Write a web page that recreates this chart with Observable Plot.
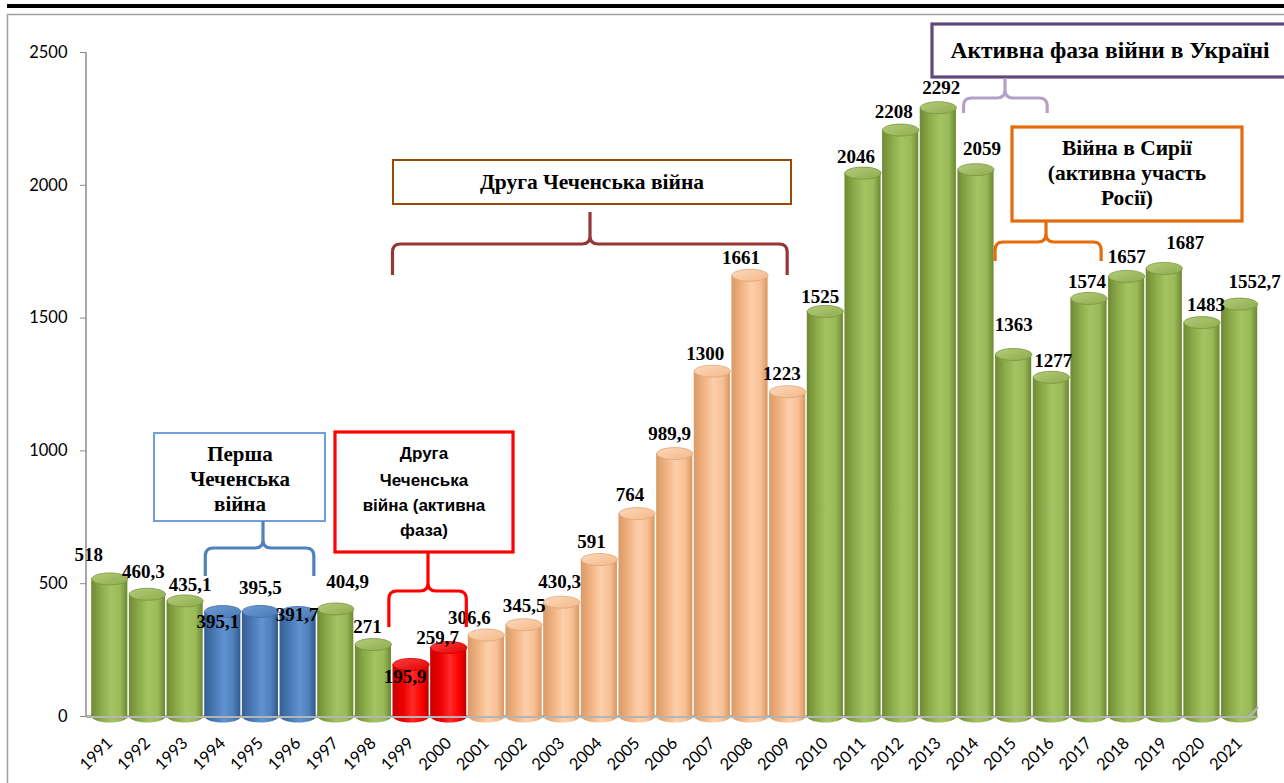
<!DOCTYPE html>
<html><head><meta charset="utf-8">
<script src="https://cdn.jsdelivr.net/npm/d3@7"></script>
<script src="https://cdn.jsdelivr.net/npm/@observablehq/plot@0.6"></script>
<style>
body{margin:0;background:#fff;}
#chart{position:relative;width:1284px;height:783px;overflow:hidden;}
.serif text, text.serif{font-family:"Liberation Serif","Times New Roman",Tinos,"DejaVu Serif",serif !important;}
text.sans{font-family:"Liberation Sans",Arial,Arimo,sans-serif !important;}
</style></head><body><div id="chart"></div>
<script>
// ---------- data ----------
const years = ["1991","1992","1993","1994","1995","1996","1997","1998","1999","2000","2001","2002","2003","2004","2005","2006","2007","2008","2009","2010","2011","2012","2013","2014","2015","2016","2017","2018","2019","2020","2021"];
const values = [518,460.3,435.1,395.1,395.5,391.7,404.9,271,195.9,259.7,306.6,345.5,430.3,591,764,989.9,1300,1661,1223,1525,2046,2208,2292,2059,1363,1277,1574,1657,1687,1483,1552.7];
const periods = ["peace","peace","peace","chechen1","chechen1","chechen1","peace","peace","chechen2active","chechen2active",
  "chechen2","chechen2","chechen2","chechen2","chechen2","chechen2","chechen2","chechen2","chechen2",
  "peace","peace","peace","peace","peace","peace","peace","peace","peace","peace","peace","peace"];
const yTicks = [0,500,1000,1500,2000,2500];
const annotations = [
  {lines:["Перша","Чеченська","війна"], from:"1994", to:"1996"},
  {lines:["Друга","Чеченська","війна (активна","фаза)"], from:"1999", to:"2000"},
  {lines:["Друга Чеченська війна"], from:"1999", to:"2009"},
  {lines:["Активна фаза війни в Україні"], from:"2014", to:"2016"},
  {lines:["Війна в Сирії","(активна участь","Росії)"], from:"2015", to:"2017"}
];

const data = years.map((year, i) => ({year, value: values[i], period: periods[i], label: String(values[i]).replace(".", ",")}));

// ---------- styling / layout ----------
const styles = {
  peace:          {side:["#6f8a33","#8eae4c","#a4c363","#9aba57","#6c8832"], top:["#b3cc7a","#8dac4d"], rim:"#7a963d"},
  chechen1:       {side:["#355f91","#4a7bb7","#6193d0","#4f81bd","#335a8a"], top:["#6e9bd3","#4a7bb7"], rim:"#3f6ea6"},
  chechen2active: {side:["#c80000","#ee0000","#ff2a2a","#ff0000","#c00000"], top:["#ff4040","#e00000"], rim:"#d00000"},
  chechen2:       {side:["#d99a68","#f2b483","#fccfab","#f8c096","#d8975f"], top:["#fdd9bc","#f3b887"], rim:"#e0a676"}
};
const labelNudge = {
  1991:[-21,-24],1992:[-4,-22],1993:[5,-16],1994:[-5,10],1995:[0,-24],1996:[-1,2],1997:[12,-27],1998:[-6,-18],
  1999:[-6,12],2000:[-11,-10],2001:[-17,-17],2002:[0,-19],2003:[-2,-20],2004:[-8,-18],2005:[-7,-19],2006:[-5,-20],
  2007:[-7,-17],2008:[-9,-17],2009:[-6,-18],2010:[-5,-15],2011:[-7,-16],2012:[-7,-18],2013:[3,-20],2014:[6,-21],
  2015:[0,-30],2016:[2,-16],2017:[-2,-17],2018:[0,-19],2019:[21,-26],2020:[4,-18],2021:[15,-22]
};
const xRange = [91.2, 1257.2];
const bw = d3.scaleBand().domain(years).range(xRange).paddingInner(0.04).paddingOuter(0).bandwidth();
const ellipseSymbol = (rx, ry) => ({
  draw(ctx) {
    const k = 0.5523;
    ctx.moveTo(-rx, 0);
    ctx.bezierCurveTo(-rx, -ry*k, -rx*k, -ry, 0, -ry);
    ctx.bezierCurveTo(rx*k, -ry, rx, -ry*k, rx, 0);
    ctx.bezierCurveTo(rx, ry*k, rx*k, ry, 0, ry);
    ctx.bezierCurveTo(-rx*k, ry, -rx, ry*k, -rx, 0);
    ctx.closePath();
  }
});
const ell = ellipseSymbol(bw/2, 6);

const marks = [];
for (const p of Object.keys(styles)) {
  const sub = data.filter(d => d.period === p);
  marks.push(Plot.dot(sub, {x:"year", y: d => 0, symbol: ell, r: 5, fill:`url(#side-${p})`}));
}
marks.push(Plot.ruleY([0], {stroke:"#b4b4b4", strokeWidth:3}));
for (const p of Object.keys(styles)) {
  const sub = data.filter(d => d.period === p);
  marks.push(Plot.barY(sub, {x:"year", y:"value", fill:`url(#side-${p})`}));
  marks.push(Plot.dot(sub, {x:"year", y:"value", symbol: ell, r: 5, fill:`url(#top-${p})`, stroke: styles[p].rim, strokeWidth: 0.8}));
}
for (const d of data) {
  const [dx, dy] = labelNudge[d.year] || [0, -19];
  marks.push(Plot.text([d], {x:"year", y:"value", text:"label", dx, dy, fontSize:19, fontWeight:"bold", fill:"#000", className:"serif"}));
}
marks.push(Plot.text(data, {x:"year", y: d => 0, text:"year", rotate:-45, textAnchor:"end", dx: 0, dy: 24, fontSize:16.5, fontFamily:"Lato", fill:"#000"}));
marks.push(Plot.axisY({ticks: yTicks, tickSize: 6, tickPadding: 13, tickFormat: d => String(d), fontSize: 16.5, fontFamily:"Lato", label: null, stroke:"#8c8c8c", fill:"#000"}));

const chart = Plot.plot({
  width: 1284, height: 783,
  marginTop: 52, marginBottom: 67, marginLeft: 86, marginRight: 27,
  x: {type:"band", domain: years, range: xRange, paddingInner: 0.04, paddingOuter: 0, round: false, axis: null},
  y: {domain:[0,2500], axis: null},
  style: {background:"#fff", fontFamily:"Lato", overflow:"visible"},
  marks
});
document.getElementById("chart").appendChild(chart);

// ---------- decorations ----------
const svg = d3.select(chart);
svg.selectAll("g[aria-label='text'] text").filter(function(){ return /\d[,\d]*$/.test(this.textContent) && this.closest("g").getAttribute("font-weight")==="bold"; })
  .attr("font-family", null).classed("serif", true);
const defs = svg.insert("defs", ":first-child");
for (const [p, s] of Object.entries(styles)) {
  const g = defs.append("linearGradient").attr("id", `side-${p}`).attr("x1","0").attr("x2","1").attr("y1","0").attr("y2","0");
  [0, 0.3, 0.55, 0.8, 1].forEach((o, i) => g.append("stop").attr("offset", o).attr("stop-color", s.side[i]));
  const t = defs.append("linearGradient").attr("id", `top-${p}`).attr("x1","0").attr("x2","1").attr("y1","0").attr("y2","1");
  t.append("stop").attr("offset", 0).attr("stop-color", s.top[0]);
  t.append("stop").attr("offset", 1).attr("stop-color", s.top[1]);
}
const xs = chart.scale("x"), ys = chart.scale("y");
// y axis line
svg.append("line").attr("x1",86).attr("x2",86).attr("y1",ys.apply(2500)).attr("y2",ys.apply(0)).attr("stroke","#8c8c8c").attr("stroke-width",1.5);
// floor slant
svg.append("path").attr("d",`M${xRange[1]-8},${ys.apply(0)+1} L${xRange[1]+1},${ys.apply(0)-9}`).attr("stroke","#b4b4b4").attr("stroke-width",2.5).attr("fill","none");
// page frame
svg.append("rect").attr("x",7).attr("y",4).attr("width",1284).attr("height",4).attr("fill","#000");
svg.append("path").attr("d","M7.5,800 L7.5,14.5 L1290,14.5").attr("stroke","#a0a0a0").attr("stroke-width",1.5).attr("fill","none");

function brace(x1, x2, cx, yTip, yMid, yEnd, color) {
  const r = 8;
  const d = `M${x1},${yEnd} L${x1},${yMid+r} Q${x1},${yMid} ${x1+r},${yMid} L${cx-r},${yMid} Q${cx},${yMid} ${cx},${yMid-r} L${cx},${yTip}` +
            ` M${cx},${yMid-r} Q${cx},${yMid} ${cx+r},${yMid} L${x2-r},${yMid} Q${x2},${yMid} ${x2},${yMid+r} L${x2},${yEnd}`;
  svg.append("path").attr("d", d).attr("stroke", color).attr("stroke-width", 3.2).attr("fill","none").attr("stroke-linejoin","round");
}
function box(x, y, w, h, color, sw, lines, cx, lineYs, cls, size) {
  svg.append("rect").attr("x",x).attr("y",y).attr("width",w).attr("height",h).attr("fill","#fff").attr("stroke",color).attr("stroke-width",sw);
  lines.forEach((t, i) => svg.append("text").attr("class", cls).attr("x",cx).attr("y",lineYs[i]).attr("text-anchor","middle").attr("dominant-baseline","central")
    .attr("font-weight","bold").attr("font-size",size).attr("fill","#000").text(t));
}
const px = (year, f) => xs.apply(year) + f * bw;
// 1: first Chechen war
box(154, 433, 171, 88, "#6fa0dc", 2, annotations[0].lines, 240, [454,479,504], "serif", 21);
brace(px(annotations[0].from, 0.03), px(annotations[0].to, 0.95), 263, 521, 548, 576, "#4f81bd");
// 2: second Chechen war active phase
box(335, 432, 178, 120, "#ff0000", 3.2, annotations[1].lines, 424, [453,480,505,530], "sans", 17);
brace(px(annotations[1].from, -0.1), px(annotations[1].to, 1.0), 428, 553, 591, 627, "#ff0000");
// 3: second Chechen war
box(393, 160, 398, 44, "#984807", 2, annotations[2].lines, 592, [182], "serif", 21.5);
brace(px(annotations[2].from, 0), px(annotations[2].to, 0.5), 590, 212, 244, 275, "#953735");
// 4: Ukraine
box(932, 24, 360, 53, "#5f497a", 3.2, annotations[3].lines, 1110, [50], "serif", 23.5);
brace(px(annotations[3].from, 0.17), px(annotations[3].to, 0.4), 1005, 78, 98, 113, "#b3a2c7");
// 5: Syria
box(1012, 127, 230, 94, "#e46c0a", 3.2, annotations[4].lines, 1127, [148,173,198], "serif", 21.5);
brace(px(annotations[4].from, 0), px(annotations[4].to, 0.85), 1046, 221, 242, 261, "#e46c0a");
</script></body></html>
